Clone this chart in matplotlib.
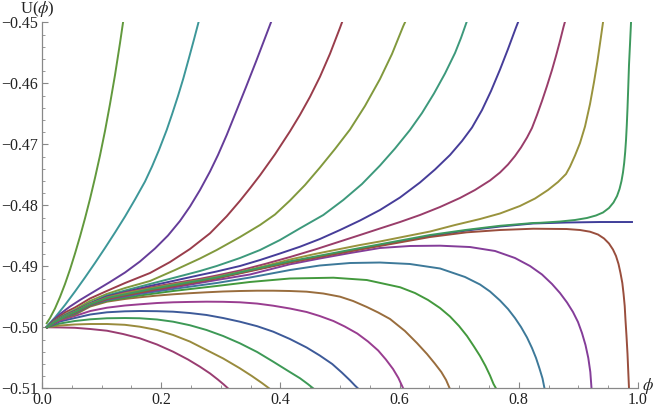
import colorsys
import matplotlib
matplotlib.use('Agg')
import matplotlib.pyplot as plt
from matplotlib.ticker import MultipleLocator, FuncFormatter

plt.rcParams['font.family'] = ['Liberation Serif', 'DejaVu Serif']
plt.rcParams['mathtext.fontset'] = 'stix'

# curves in drawing order (colour index follows this order)
phi_01 = [0.0084, 0.0218, 0.0386, 0.0554, 0.0805, 0.1086, 0.1812, 0.2931, 0.4161, 0.5336, 0.651, 0.7126, 0.7685, 0.8243, 0.8804, 0.9362, 0.9899]
u_01 = [-0.5, -0.4991, -0.49821, -0.49754, -0.49631, -0.49528, -0.49389, -0.49192, -0.4893, -0.48716, -0.48503, -0.48413, -0.48348, -0.48298, -0.48282, -0.48274, -0.48274]

phi_02 = [0.008, 0.030, 0.055, 0.081, 0.109, 0.136, 0.164, 0.193, 0.220, 0.245, 0.265, 0.282, 0.295, 0.305, 0.312]
u_02 = [-0.5, -0.50002, -0.50008, -0.50028, -0.50056, -0.5011, -0.5018, -0.50282, -0.504, -0.50528, -0.50646, -0.50757, -0.50856, -0.50938, -0.51]

phi_03 = [0.008, 0.030, 0.055, 0.081, 0.109, 0.139, 0.164, 0.193, 0.220, 0.248, 0.276, 0.304, 0.332, 0.352, 0.369, 0.381]
u_03 = [-0.5, -0.4997, -0.49954, -0.49946, -0.49946, -0.49959, -0.4999, -0.50044, -0.50126, -0.50233, -0.50372, -0.50511, -0.50672, -0.50798, -0.50913, -0.51]

phi_04 = [0.008, 0.030, 0.055, 0.081, 0.109, 0.139, 0.164, 0.193, 0.220, 0.248, 0.276, 0.304, 0.332, 0.361, 0.388, 0.413, 0.433, 0.446, 0.455]
u_04 = [-0.5, -0.49938, -0.49897, -0.49869, -0.49852, -0.49848, -0.49852, -0.49872, -0.49908, -0.49966, -0.50044, -0.50143, -0.50262, -0.50405, -0.50564, -0.50716, -0.50836, -0.5093, -0.51]

phi_05 = [0.008, 0.030, 0.055, 0.081, 0.109, 0.139, 0.164, 0.193, 0.220, 0.248, 0.276, 0.304, 0.332, 0.361, 0.388, 0.416, 0.444, 0.466, 0.487, 0.503, 0.517, 0.525, 0.530]
u_05 = [-0.5, -0.49905, -0.49848, -0.4979, -0.49754, -0.49738, -0.49733, -0.49736, -0.49744, -0.49766, -0.49798, -0.49848, -0.49908, -0.49982, -0.50072, -0.50192, -0.50331, -0.50462, -0.50602, -0.50741, -0.50872, -0.50954, -0.51]

phi_06 = [0.008, 0.030, 0.055, 0.081, 0.109, 0.139, 0.164, 0.193, 0.220, 0.248, 0.276, 0.304, 0.332, 0.361, 0.388, 0.416, 0.444, 0.466, 0.489, 0.508, 0.529, 0.547, 0.564, 0.577, 0.589, 0.598, 0.606]
u_06 = [-0.5, -0.49889, -0.49815, -0.49733, -0.49679, -0.49643, -0.49623, -0.49602, -0.4959, -0.49584, -0.4958, -0.49582, -0.4959, -0.49611, -0.49646, -0.49692, -0.49749, -0.49815, -0.49897, -0.49987, -0.50102, -0.50233, -0.5038, -0.50528, -0.50684, -0.50831, -0.51]

phi_07 = [0.008, 0.030, 0.055, 0.081, 0.109, 0.139, 0.164, 0.193, 0.220, 0.248, 0.276, 0.304, 0.332, 0.361, 0.388, 0.416, 0.444, 0.472, 0.500, 0.522, 0.545, 0.564, 0.584, 0.609, 0.629, 0.646, 0.659, 0.670, 0.678, 0.684]
u_07 = [-0.5, -0.49872, -0.49795, -0.49659, -0.4958, -0.49536, -0.49508, -0.4948, -0.49459, -0.49441, -0.49426, -0.49413, -0.49405, -0.494, -0.494, -0.49405, -0.49416, -0.49446, -0.49498, -0.49569, -0.49667, -0.49757, -0.49864, -0.50061, -0.50257, -0.50438, -0.50593, -0.50733, -0.50864, -0.51]

phi_08 = [0.008, 0.030, 0.055, 0.081, 0.109, 0.164, 0.220, 0.293, 0.349, 0.416, 0.489, 0.545, 0.601, 0.6258, 0.6477, 0.6678, 0.6846, 0.6997, 0.7131, 0.7248, 0.7349, 0.7441, 0.7517, 0.7576, 0.7617]
u_08 = [-0.5, -0.49864, -0.49782, -0.49643, -0.49566, -0.49479, -0.49405, -0.49323, -0.49257, -0.492, -0.49187, -0.49225, -0.49344, -0.49438, -0.49552, -0.49684, -0.49823, -0.49979, -0.50143, -0.50315, -0.5047, -0.50634, -0.5079, -0.5093, -0.51]

phi_09 = [0.008, 0.030, 0.055, 0.081, 0.109, 0.164, 0.220, 0.293, 0.349, 0.416, 0.466, 0.517, 0.567, 0.617, 0.668, 0.7097, 0.7349, 0.7517, 0.7685, 0.7819, 0.7936, 0.8037, 0.8138, 0.8221, 0.8289, 0.8347, 0.8398, 0.8431]
u_09 = [-0.5, -0.49859, -0.49772, -0.49638, -0.49552, -0.49454, -0.49372, -0.49274, -0.49184, -0.49061, -0.48987, -0.48946, -0.48938, -0.48962, -0.49036, -0.49175, -0.49298, -0.49413, -0.49561, -0.497, -0.49848, -0.49995, -0.50167, -0.50339, -0.50503, -0.50675, -0.50839, -0.51]

phi_10 = [0.008, 0.030, 0.055, 0.081, 0.109, 0.164, 0.220, 0.293, 0.349, 0.416, 0.466, 0.517, 0.567, 0.6174, 0.6678, 0.7181, 0.7601, 0.7936, 0.8188, 0.8389, 0.8557, 0.8691, 0.8809, 0.8909, 0.8993, 0.906, 0.9119, 0.9166, 0.92, 0.922]
u_10 = [-0.5, -0.49856, -0.49766, -0.49634, -0.49544, -0.49438, -0.49348, -0.49225, -0.49134, -0.48967, -0.48872, -0.48782, -0.487, -0.48667, -0.48662, -0.48684, -0.48749, -0.48864, -0.48995, -0.49134, -0.4929, -0.49438, -0.49593, -0.49749, -0.49913, -0.50093, -0.5029, -0.50503, -0.50733, -0.51]

phi_11 = [0.0084, 0.0302, 0.0554, 0.0805, 0.1086, 0.1812, 0.2931, 0.4161, 0.5336, 0.651, 0.7126, 0.7685, 0.8243, 0.8804, 0.9027, 0.9195, 0.9329, 0.943, 0.9513, 0.958, 0.9631, 0.9673, 0.9706, 0.9737, 0.9758, 0.9777, 0.979, 0.9807, 0.9824, 0.9837, 0.9849]
u_11 = [-0.5, -0.49852, -0.49759, -0.49633, -0.49536, -0.49397, -0.492, -0.48938, -0.48725, -0.4852, -0.48443, -0.48405, -0.48384, -0.48389, -0.48405, -0.48433, -0.48479, -0.48544, -0.48626, -0.48725, -0.48831, -0.48962, -0.4911, -0.49274, -0.49454, -0.49651, -0.4988, -0.50143, -0.50438, -0.50733, -0.51]

phi_12 = [0.0079, 0.0134, 0.0218, 0.0302, 0.0386, 0.047, 0.0554, 0.0638, 0.0721, 0.0805, 0.0889, 0.0973, 0.1057, 0.1141, 0.1225, 0.1309, 0.136]
u_12 = [-0.49934, -0.49848, -0.49692, -0.49503, -0.4929, -0.49052, -0.4879, -0.48511, -0.48216, -0.47897, -0.47552, -0.47184, -0.46782, -0.46339, -0.45864, -0.45339, -0.45]

phi_13 = [0.0084, 0.0218, 0.0386, 0.0554, 0.0721, 0.0889, 0.1057, 0.1225, 0.1393, 0.156, 0.1728, 0.1846, 0.1963, 0.2092, 0.2181, 0.2282, 0.2371, 0.2466, 0.255, 0.2626]
u_13 = [-0.49979, -0.49839, -0.49634, -0.49413, -0.49184, -0.48946, -0.487, -0.48446, -0.48184, -0.47905, -0.47611, -0.47364, -0.47093, -0.46766, -0.46511, -0.46208, -0.45921, -0.45585, -0.45282, -0.45]

phi_14 = [0.0084, 0.0185, 0.0302, 0.047, 0.0638, 0.0889, 0.1141, 0.1393, 0.1644, 0.1896, 0.2114, 0.2315, 0.2483, 0.2651, 0.2819, 0.2953, 0.3099, 0.3255, 0.3423, 0.3591, 0.3758, 0.3842]
u_14 = [-0.5, -0.49889, -0.49782, -0.49659, -0.49552, -0.49405, -0.49257, -0.49102, -0.48921, -0.48708, -0.48495, -0.48257, -0.4802, -0.47749, -0.47446, -0.47175, -0.46848, -0.4647, -0.46061, -0.45643, -0.45216, -0.45]

phi_15 = [0.0084, 0.0218, 0.0386, 0.0554, 0.0805, 0.1086, 0.1393, 0.1812, 0.2148, 0.2483, 0.2819, 0.3099, 0.3322, 0.349, 0.3658, 0.3909, 0.4161, 0.4329, 0.4497, 0.4664, 0.4832, 0.5, 0.5034]
u_15 = [-0.5, -0.49872, -0.49757, -0.49675, -0.49528, -0.49405, -0.49274, -0.4911, -0.4893, -0.48716, -0.48459, -0.4818, -0.47926, -0.47721, -0.47508, -0.47164, -0.46787, -0.46516, -0.46221, -0.45893, -0.45516, -0.4509, -0.45]

phi_16 = [0.0084, 0.0218, 0.0386, 0.0554, 0.0805, 0.1086, 0.1393, 0.1812, 0.2232, 0.2651, 0.2931, 0.3322, 0.3658, 0.3909, 0.4161, 0.4413, 0.4664, 0.4916, 0.5168, 0.5419, 0.5671, 0.5872, 0.6062, 0.6091]
u_16 = [-0.5, -0.49893, -0.4979, -0.49708, -0.49569, -0.49454, -0.49356, -0.49241, -0.49061, -0.48872, -0.48733, -0.4852, -0.48323, -0.48151, -0.47921, -0.47667, -0.4738, -0.47077, -0.46757, -0.46372, -0.4593, -0.4552, -0.45061, -0.45]

phi_17 = [0.0084, 0.0218, 0.0386, 0.0554, 0.0805, 0.1086, 0.1393, 0.1812, 0.2232, 0.2651, 0.2931, 0.3322, 0.3658, 0.3993, 0.4329, 0.472, 0.5055, 0.5369, 0.5671, 0.5923, 0.6174, 0.6376, 0.6577, 0.6762, 0.693, 0.703, 0.7123]
u_17 = [-0.5, -0.49889, -0.49798, -0.49725, -0.49602, -0.49479, -0.49397, -0.4929, -0.49184, -0.49077, -0.48995, -0.48864, -0.48733, -0.48569, -0.48377, -0.48159, -0.47913, -0.47651, -0.47348, -0.47069, -0.46766, -0.46487, -0.46167, -0.45839, -0.45503, -0.45257, -0.45]

phi_18 = [0.0084, 0.0218, 0.0386, 0.0554, 0.0805, 0.1086, 0.1393, 0.1812, 0.2232, 0.2651, 0.2931, 0.3322, 0.3658, 0.3993, 0.4329, 0.4664, 0.5, 0.5336, 0.5671, 0.6007, 0.6342, 0.6594, 0.6846, 0.7047, 0.7215, 0.7383, 0.7534, 0.7685, 0.7819, 0.7953, 0.7987]
u_18 = [-0.5, -0.49897, -0.49807, -0.49733, -0.4961, -0.49495, -0.49421, -0.49323, -0.49233, -0.49143, -0.49085, -0.48995, -0.48897, -0.4879, -0.48679, -0.48552, -0.48405, -0.48249, -0.48077, -0.47872, -0.47626, -0.47413, -0.47175, -0.46946, -0.46725, -0.46438, -0.46126, -0.45774, -0.45438, -0.45085, -0.45]

phi_19 = [0.0084, 0.0218, 0.0386, 0.0554, 0.0805, 0.1086, 0.1393, 0.1812, 0.2232, 0.2651, 0.2931, 0.3322, 0.3742, 0.4161, 0.4581, 0.5, 0.5336, 0.5671, 0.6007, 0.6342, 0.6678, 0.7013, 0.7265, 0.7517, 0.7685, 0.7819, 0.7936, 0.8037, 0.8138, 0.8221, 0.8305, 0.8389, 0.8473, 0.8557, 0.8624, 0.8691, 0.875, 0.8772]
u_19 = [-0.5, -0.499, -0.49811, -0.49739, -0.49615, -0.49507, -0.4943, -0.49348, -0.49274, -0.49205, -0.49151, -0.49069, -0.48962, -0.48848, -0.48725, -0.48593, -0.48487, -0.4838, -0.48274, -0.48159, -0.48028, -0.4788, -0.47749, -0.47593, -0.47462, -0.47331, -0.47192, -0.47052, -0.46889, -0.46733, -0.4652, -0.4629, -0.46044, -0.45782, -0.45552, -0.45307, -0.45077, -0.45]

phi_20 = [0.0084, 0.0218, 0.0386, 0.0554, 0.0805, 0.1086, 0.1393, 0.1812, 0.2232, 0.2651, 0.2931, 0.3322, 0.3742, 0.4161, 0.4581, 0.5, 0.5336, 0.5671, 0.6091, 0.651, 0.693, 0.7349, 0.7685, 0.802, 0.8272, 0.849, 0.8658, 0.8792, 0.8859, 0.8943, 0.9027, 0.9111, 0.9195, 0.9262, 0.932, 0.9371, 0.9413]
u_20 = [-0.5, -0.49903, -0.49815, -0.49744, -0.49618, -0.49515, -0.49443, -0.49364, -0.4929, -0.49225, -0.49172, -0.49093, -0.48995, -0.48889, -0.48798, -0.48716, -0.48651, -0.48593, -0.48511, -0.4843, -0.48323, -0.48225, -0.48134, -0.48011, -0.47889, -0.47749, -0.47618, -0.47487, -0.47367, -0.47184, -0.46979, -0.46708, -0.46339, -0.45979, -0.45634, -0.4529, -0.45]

phi_21 = [0.0084, 0.0218, 0.0386, 0.0554, 0.0805, 0.1086, 0.1812, 0.2931, 0.4161, 0.5336, 0.651, 0.7126, 0.7685, 0.8243, 0.8356, 0.8691, 0.8943, 0.9144, 0.9295, 0.9413, 0.9513, 0.9589, 0.9648, 0.969, 0.9723, 0.9748, 0.9768, 0.9785, 0.9799, 0.9812, 0.9824, 0.9836, 0.9849, 0.9866, 0.9883]
u_21 = [-0.5, -0.49907, -0.49818, -0.49749, -0.49626, -0.49521, -0.49377, -0.49184, -0.48918, -0.487, -0.48487, -0.48402, -0.48336, -0.4829, -0.48287, -0.48266, -0.48241, -0.48208, -0.48167, -0.48118, -0.48044, -0.47954, -0.47848, -0.47733, -0.47602, -0.47462, -0.47307, -0.47126, -0.4693, -0.46684, -0.46405, -0.46077, -0.457, -0.45356, -0.45]

curves = [(phi_01, u_01), (phi_02, u_02), (phi_03, u_03), (phi_04, u_04), (phi_05, u_05),
          (phi_06, u_06), (phi_07, u_07), (phi_08, u_08), (phi_09, u_09), (phi_10, u_10),
          (phi_11, u_11), (phi_12, u_12), (phi_13, u_13), (phi_14, u_14), (phi_15, u_15),
          (phi_16, u_16), (phi_17, u_17), (phi_18, u_18), (phi_19, u_19), (phi_20, u_20),
          (phi_21, u_21)]

fig = plt.figure(figsize=(6.54, 4.08), dpi=100)
ax = fig.add_axes([42/654, 19.7/408, 596/654, 366/408])

for i, (p, u) in enumerate(curves):
    # old Mathematica default plot colours: Hue[h, 0.6, 0.6], golden-ratio hue steps
    h = (0.67 + 0.236068 * i) % 1.0
    col = colorsys.hsv_to_rgb(h, 0.6, 0.6)
    ax.plot(p, u, color=col, lw=1.4, solid_joinstyle='round')

ax.set_xlim(0, 1)
ax.set_ylim(-0.51, -0.45)

for s in ['top', 'right']:
    ax.spines[s].set_visible(False)
for s in ['left', 'bottom']:
    ax.spines[s].set_color('#888888')
    ax.spines[s].set_linewidth(0.9)

ax.xaxis.set_major_locator(MultipleLocator(0.2))
ax.xaxis.set_minor_locator(MultipleLocator(0.05))
ax.yaxis.set_major_locator(MultipleLocator(0.01))
ax.yaxis.set_minor_locator(MultipleLocator(0.002))
ax.xaxis.set_major_formatter(FuncFormatter(lambda v, pos: f'{v:.1f}'))
ax.yaxis.set_major_formatter(FuncFormatter(lambda v, pos: '\u2212' + f'{abs(v):.2f}'))

ax.tick_params(which='both', direction='in', color='#888888', labelsize=11.5, labelcolor='#222222')
ax.tick_params(which='major', length=4.5, width=0.8, pad=3)
ax.tick_params(which='minor', length=2.5, width=0.6)
# lift the y labels onto their baseline centre so "-0.51" clears "0.0"
for lab in ax.get_yticklabels():
    lab.set_verticalalignment('center_baseline')

ax.text(-0.008, 1.036, r'U($\phi$)', transform=ax.transAxes, ha='center', va='center', fontsize=12, color='#222222')
ax.text(1.017, 0.006, r'$\phi$', transform=ax.transAxes, ha='center', va='center', fontsize=12, color='#222222')

fig.savefig('out.png', dpi=100)
